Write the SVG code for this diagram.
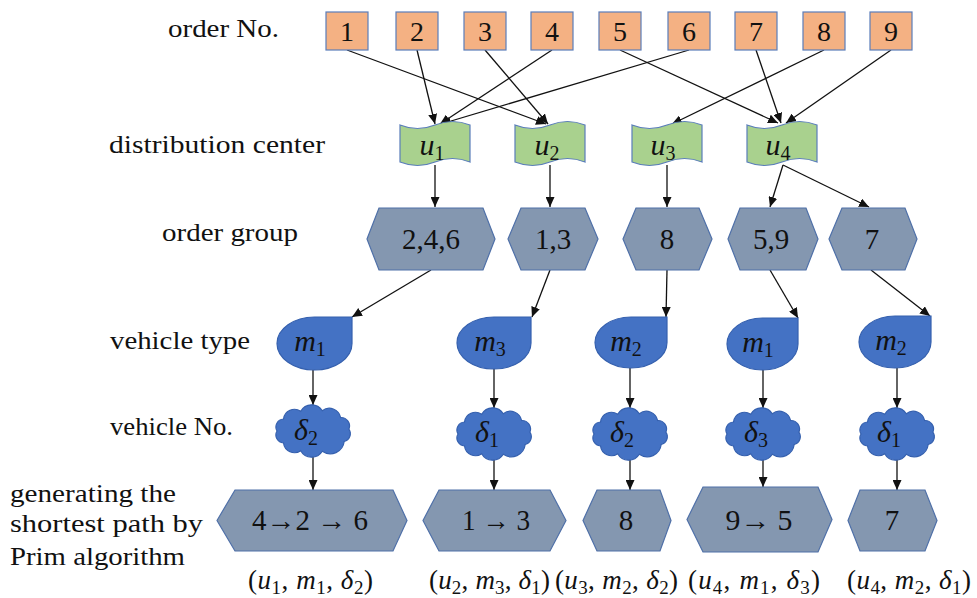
<svg xmlns="http://www.w3.org/2000/svg" width="977" height="598" viewBox="0 0 977 598">
<defs>
<marker id="ah" markerUnits="userSpaceOnUse" markerWidth="10" markerHeight="9" viewBox="0 0 10 9" refX="10" refY="4.5" orient="auto">
<path d="M0,0 L10,4.5 L0,9 Z" fill="#111"/>
</marker>
<path id="cloud" d="M-36,0 A8,8 0 0 1 -29.5,-12 A11,11 0 0 1 -12.3,-19.7 A12.5,12.5 0 0 1 9.3,-20.3 A11.5,11.5 0 0 1 27.6,-13.5 A8.5,8.5 0 0 1 35.9,-1.8 A8,8 0 0 1 31.2,10.5 A14,14 0 0 1 9.3,20.3 A12.5,12.5 0 0 1 -12.3,19.7 A11,11 0 0 1 -29.5,12 A8,8 0 0 1 -36,0 Z"/>
</defs>
<rect width="977" height="598" fill="#fff"/>

<g id="labels" fill="#111">
<text x="168" y="37" font-family="Liberation Serif" font-size="25" textLength="111" lengthAdjust="spacingAndGlyphs">order No.</text>
<text x="109" y="153" font-family="Liberation Serif" font-size="25" textLength="216" lengthAdjust="spacingAndGlyphs">distribution center</text>
<text x="162" y="241" font-family="Liberation Serif" font-size="25" textLength="136" lengthAdjust="spacingAndGlyphs">order group</text>
<text x="110" y="349" font-family="Liberation Serif" font-size="25" textLength="140" lengthAdjust="spacingAndGlyphs">vehicle type</text>
<text x="110" y="435" font-family="Liberation Serif" font-size="25" textLength="123" lengthAdjust="spacingAndGlyphs">vehicle No.</text>
<text x="10" y="502" font-family="Liberation Serif" font-size="25" textLength="166" lengthAdjust="spacingAndGlyphs">generating the</text>
<text x="10" y="532" font-family="Liberation Serif" font-size="25" textLength="193" lengthAdjust="spacingAndGlyphs">shortest path by</text>
<text x="10" y="565" font-family="Liberation Serif" font-size="25" textLength="175" lengthAdjust="spacingAndGlyphs">Prim algorithm</text>
</g>

<g id="connectors" stroke="#111" stroke-width="1.3" fill="none" marker-end="url(#ah)">
<line x1="347" y1="50" x2="546" y2="124"/>
<line x1="417" y1="50" x2="435" y2="124"/>
<line x1="485" y1="50" x2="548" y2="124"/>
<line x1="552" y1="50" x2="440" y2="124"/>
<line x1="620" y1="50" x2="778" y2="123"/>
<line x1="689" y1="50" x2="441" y2="124"/>
<line x1="756" y1="50" x2="781" y2="123"/>
<line x1="824" y1="50" x2="672" y2="124"/>
<line x1="891" y1="50" x2="786" y2="123"/>
<line x1="435" y1="165" x2="435" y2="207"/>
<line x1="550" y1="165" x2="550" y2="207"/>
<line x1="667" y1="165" x2="667" y2="207"/>
<line x1="783" y1="165" x2="770" y2="207"/>
<line x1="783" y1="165" x2="869" y2="207"/>
<line x1="431" y1="270" x2="352" y2="317"/>
<line x1="550" y1="270" x2="532" y2="317"/>
<line x1="667" y1="270" x2="666" y2="317"/>
<line x1="770" y1="270" x2="798" y2="318"/>
<line x1="871" y1="270" x2="930" y2="316"/>
<line x1="313" y1="370" x2="313" y2="405"/>
<line x1="494" y1="369" x2="494" y2="408"/>
<line x1="630" y1="368" x2="630" y2="408"/>
<line x1="763" y1="370" x2="763" y2="408"/>
<line x1="897" y1="368" x2="897" y2="408"/>
<line x1="313" y1="457" x2="313" y2="490"/>
<line x1="494" y1="460" x2="494" y2="490"/>
<line x1="630" y1="460" x2="630" y2="490"/>
<line x1="763" y1="460" x2="763" y2="487"/>
<line x1="897" y1="460" x2="897" y2="490"/>
</g>

<g id="orders" text-anchor="middle">
<g id="o1"><rect fill="#F4B183" stroke="#5A7DBA" stroke-width="1.2" x="326" y="12" width="42" height="38"/><text x="347" y="41" fill="#111" font-family="Liberation Serif" font-size="28">1</text></g>
<g id="o2"><rect fill="#F4B183" stroke="#5A7DBA" stroke-width="1.2" x="396" y="12" width="42" height="38"/><text x="417" y="41" fill="#111" font-family="Liberation Serif" font-size="28">2</text></g>
<g id="o3"><rect fill="#F4B183" stroke="#5A7DBA" stroke-width="1.2" x="464" y="12" width="42" height="38"/><text x="485" y="41" fill="#111" font-family="Liberation Serif" font-size="28">3</text></g>
<g id="o4"><rect fill="#F4B183" stroke="#5A7DBA" stroke-width="1.2" x="531" y="12" width="42" height="38"/><text x="552" y="41" fill="#111" font-family="Liberation Serif" font-size="28">4</text></g>
<g id="o5"><rect fill="#F4B183" stroke="#5A7DBA" stroke-width="1.2" x="599" y="12" width="42" height="38"/><text x="620" y="41" fill="#111" font-family="Liberation Serif" font-size="28">5</text></g>
<g id="o6"><rect fill="#F4B183" stroke="#5A7DBA" stroke-width="1.2" x="668" y="12" width="42" height="38"/><text x="689" y="41" fill="#111" font-family="Liberation Serif" font-size="28">6</text></g>
<g id="o7"><rect fill="#F4B183" stroke="#5A7DBA" stroke-width="1.2" x="735" y="12" width="42" height="38"/><text x="756" y="41" fill="#111" font-family="Liberation Serif" font-size="28">7</text></g>
<g id="o8"><rect fill="#F4B183" stroke="#5A7DBA" stroke-width="1.2" x="803" y="12" width="42" height="38"/><text x="824" y="41" fill="#111" font-family="Liberation Serif" font-size="28">8</text></g>
<g id="o9"><rect fill="#F4B183" stroke="#5A7DBA" stroke-width="1.2" x="870" y="12" width="42" height="38"/><text x="891" y="41" fill="#111" font-family="Liberation Serif" font-size="28">9</text></g>
</g>

<g id="centers" text-anchor="middle">
<g id="u1"><path fill="#A9D18E" stroke="#5A7DBA" stroke-width="1.2" d="M400,125 Q417.5,132 435,125 T470,125 L470,162 Q452.5,155 435,162 T400,162 Z"/><text x="432" y="155" fill="#111" font-family="Liberation Serif" font-size="30"><tspan font-style="italic">u</tspan><tspan font-size="20" dy="5">1</tspan></text></g>
<g id="u2"><path fill="#A9D18E" stroke="#5A7DBA" stroke-width="1.2" d="M515,125 Q532.5,132 550,125 T585,125 L585,162 Q567.5,155 550,162 T515,162 Z"/><text x="547" y="155" fill="#111" font-family="Liberation Serif" font-size="30"><tspan font-style="italic">u</tspan><tspan font-size="20" dy="5">2</tspan></text></g>
<g id="u3"><path fill="#A9D18E" stroke="#5A7DBA" stroke-width="1.2" d="M632,125 Q649.5,132 667,125 T702,125 L702,162 Q684.5,155 667,162 T632,162 Z"/><text x="663" y="155" fill="#111" font-family="Liberation Serif" font-size="30"><tspan font-style="italic">u</tspan><tspan font-size="20" dy="5">3</tspan></text></g>
<g id="u4"><path fill="#A9D18E" stroke="#5A7DBA" stroke-width="1.2" d="M747,125 Q764.5,132 782,125 T817,125 L817,162 Q799.5,155 782,162 T747,162 Z"/><text x="778" y="155" fill="#111" font-family="Liberation Serif" font-size="30"><tspan font-style="italic">u</tspan><tspan font-size="20" dy="5">4</tspan></text></g>
</g>

<g id="groups" text-anchor="middle">
<g id="g246"><path fill="#8497B0" stroke="#4F70A8" stroke-width="1.2" d="M367,239 L379,208 L483,208 L495,239 L483,270 L379,270 Z"/><text x="431" y="249" fill="#111" font-family="Liberation Serif" font-size="29">2,4,6</text></g>
<g id="g13"><path fill="#8497B0" stroke="#4F70A8" stroke-width="1.2" d="M508,239 L521,208 L585,208 L598,239 L585,270 L521,270 Z"/><text x="553" y="249" fill="#111" font-family="Liberation Serif" font-size="29">1,3</text></g>
<g id="g8"><path fill="#8497B0" stroke="#4F70A8" stroke-width="1.2" d="M623,239 L636,208 L699,208 L712,239 L699,270 L636,270 Z"/><text x="667" y="249" fill="#111" font-family="Liberation Serif" font-size="29">8</text></g>
<g id="g59"><path fill="#8497B0" stroke="#4F70A8" stroke-width="1.2" d="M728,239 L740,208 L806,208 L818,239 L806,270 L740,270 Z"/><text x="771" y="249" fill="#111" font-family="Liberation Serif" font-size="29">5,9</text></g>
<g id="g7"><path fill="#8497B0" stroke="#4F70A8" stroke-width="1.2" d="M829,239 L842,208 L905,208 L917,239 L905,270 L842,270 Z"/><text x="872" y="249" fill="#111" font-family="Liberation Serif" font-size="29">7</text></g>
</g>

<g id="vehicleTypes" text-anchor="middle">
<g id="vt1"><path fill="#4472C4" stroke="#3560AE" stroke-width="1.2" d="M314.5,317 L352,317 L352,343.5 A37.5,26.5 0 0 1 314.5,370 A37.5,26.5 0 0 1 277,343.5 A37.5,26.5 0 0 1 314.5,317 Z"/><text x="310" y="351" fill="#111" font-family="Liberation Serif" font-size="30"><tspan font-style="italic">m</tspan><tspan font-size="20" dy="5">1</tspan></text></g>
<g id="vt2"><path fill="#4472C4" stroke="#3560AE" stroke-width="1.2" d="M494,317 L531,317 L531,343 A37,26 0 0 1 494,369 A37,26 0 0 1 457,343 A37,26 0 0 1 494,317 Z"/><text x="490" y="351" fill="#111" font-family="Liberation Serif" font-size="30"><tspan font-style="italic">m</tspan><tspan font-size="20" dy="5">3</tspan></text></g>
<g id="vt3"><path fill="#4472C4" stroke="#3560AE" stroke-width="1.2" d="M631,317 L667,317 L667,342.5 A36,25.5 0 0 1 631,368 A36,25.5 0 0 1 595,342.5 A36,25.5 0 0 1 631,317 Z"/><text x="626" y="351" fill="#111" font-family="Liberation Serif" font-size="30"><tspan font-style="italic">m</tspan><tspan font-size="20" dy="5">2</tspan></text></g>
<g id="vt4"><path fill="#4472C4" stroke="#3560AE" stroke-width="1.2" d="M762.5,318 L798,318 L798,344 A35.5,26 0 0 1 762.5,370 A35.5,26 0 0 1 727,344 A35.5,26 0 0 1 762.5,318 Z"/><text x="758" y="352" fill="#111" font-family="Liberation Serif" font-size="30"><tspan font-style="italic">m</tspan><tspan font-size="20" dy="5">1</tspan></text></g>
<g id="vt5"><path fill="#4472C4" stroke="#3560AE" stroke-width="1.2" d="M895,316 L931,316 L931,342 A36,26 0 0 1 895,368 A36,26 0 0 1 859,342 A36,26 0 0 1 895,316 Z"/><text x="891" y="350" fill="#111" font-family="Liberation Serif" font-size="30"><tspan font-style="italic">m</tspan><tspan font-size="20" dy="5">2</tspan></text></g>
</g>

<g id="vehicleNos" text-anchor="middle">
<g id="vn1"><use href="#cloud" fill="#4472C4" stroke="#3560AE" stroke-width="1.2" transform="translate(313,431)"/><text x="306" y="440" fill="#111" font-family="Liberation Serif" font-size="30"><tspan font-style="italic">δ</tspan><tspan font-size="20" dy="5">2</tspan></text></g>
<g id="vn2"><use href="#cloud" fill="#4472C4" stroke="#3560AE" stroke-width="1.2" transform="translate(494,434)"/><text x="487" y="442" fill="#111" font-family="Liberation Serif" font-size="30"><tspan font-style="italic">δ</tspan><tspan font-size="20" dy="5">1</tspan></text></g>
<g id="vn3"><use href="#cloud" fill="#4472C4" stroke="#3560AE" stroke-width="1.2" transform="translate(630,434)"/><text x="622" y="442" fill="#111" font-family="Liberation Serif" font-size="30"><tspan font-style="italic">δ</tspan><tspan font-size="20" dy="5">2</tspan></text></g>
<g id="vn4"><use href="#cloud" fill="#4472C4" stroke="#3560AE" stroke-width="1.2" transform="translate(763,434)"/><text x="756" y="442" fill="#111" font-family="Liberation Serif" font-size="30"><tspan font-style="italic">δ</tspan><tspan font-size="20" dy="5">3</tspan></text></g>
<g id="vn5"><use href="#cloud" fill="#4472C4" stroke="#3560AE" stroke-width="1.2" transform="translate(897,434)"/><text x="889" y="442" fill="#111" font-family="Liberation Serif" font-size="30"><tspan font-style="italic">δ</tspan><tspan font-size="20" dy="5">1</tspan></text></g>
</g>

<g id="paths" text-anchor="middle">
<g id="p1"><path fill="#8497B0" stroke="#4F70A8" stroke-width="1.2" d="M217,520.5 L235,490 L393,490 L407,520.5 L393,551 L235,551 Z"/><text x="310" y="530" fill="#111" font-family="Liberation Serif" font-size="29" textLength="116" lengthAdjust="spacingAndGlyphs">4→2 → 6</text></g>
<g id="p2"><path fill="#8497B0" stroke="#4F70A8" stroke-width="1.2" d="M423,520.5 L439,490 L550,490 L566,520.5 L550,551 L439,551 Z"/><text x="496" y="530" fill="#111" font-family="Liberation Serif" font-size="29" textLength="68" lengthAdjust="spacingAndGlyphs">1 → 3</text></g>
<g id="p3"><path fill="#8497B0" stroke="#4F70A8" stroke-width="1.2" d="M583,520.5 L597,490 L660,490 L671,520.5 L660,551 L597,551 Z"/><text x="626" y="530" fill="#111" font-family="Liberation Serif" font-size="29">8</text></g>
<g id="p4"><path fill="#8497B0" stroke="#4F70A8" stroke-width="1.2" d="M687,519.5 L703,487 L818,487 L832,519.5 L818,552 L703,552 Z"/><text x="759" y="530" fill="#111" font-family="Liberation Serif" font-size="29" textLength="67" lengthAdjust="spacingAndGlyphs">9→ 5</text></g>
<g id="p5"><path fill="#8497B0" stroke="#4F70A8" stroke-width="1.2" d="M848,520.5 L860,490 L925,490 L937,520.5 L925,551 L860,551 Z"/><text x="892" y="530" fill="#111" font-family="Liberation Serif" font-size="29">7</text></g>
</g>

<g id="tuples" fill="#111">
<text x="248" y="589" font-family="Liberation Serif" font-size="27" textLength="125">(<tspan font-style="italic">u</tspan><tspan font-size="19" dy="5">1</tspan><tspan dy="-5">, </tspan><tspan font-style="italic">m</tspan><tspan font-size="19" dy="5">1</tspan><tspan dy="-5">, </tspan><tspan font-style="italic">δ</tspan><tspan font-size="19" dy="5">2</tspan><tspan dy="-5">)</tspan></text>
<text x="429" y="589" font-family="Liberation Serif" font-size="27" textLength="121">(<tspan font-style="italic">u</tspan><tspan font-size="19" dy="5">2</tspan><tspan dy="-5">, </tspan><tspan font-style="italic">m</tspan><tspan font-size="19" dy="5">3</tspan><tspan dy="-5">, </tspan><tspan font-style="italic">δ</tspan><tspan font-size="19" dy="5">1</tspan><tspan dy="-5">)</tspan></text>
<text x="555" y="589" font-family="Liberation Serif" font-size="27" textLength="123">(<tspan font-style="italic">u</tspan><tspan font-size="19" dy="5">3</tspan><tspan dy="-5">, </tspan><tspan font-style="italic">m</tspan><tspan font-size="19" dy="5">2</tspan><tspan dy="-5">, </tspan><tspan font-style="italic">δ</tspan><tspan font-size="19" dy="5">2</tspan><tspan dy="-5">)</tspan></text>
<text x="688" y="589" font-family="Liberation Serif" font-size="27" textLength="132">(<tspan font-style="italic">u</tspan><tspan font-size="19" dy="5">4</tspan><tspan dy="-5">, </tspan><tspan font-style="italic">m</tspan><tspan font-size="19" dy="5">1</tspan><tspan dy="-5">, </tspan><tspan font-style="italic">δ</tspan><tspan font-size="19" dy="5">3</tspan><tspan dy="-5">)</tspan></text>
<text x="847" y="589" font-family="Liberation Serif" font-size="27" textLength="124">(<tspan font-style="italic">u</tspan><tspan font-size="19" dy="5">4</tspan><tspan dy="-5">, </tspan><tspan font-style="italic">m</tspan><tspan font-size="19" dy="5">2</tspan><tspan dy="-5">, </tspan><tspan font-style="italic">δ</tspan><tspan font-size="19" dy="5">1</tspan><tspan dy="-5">)</tspan></text>
</g>
</svg>
